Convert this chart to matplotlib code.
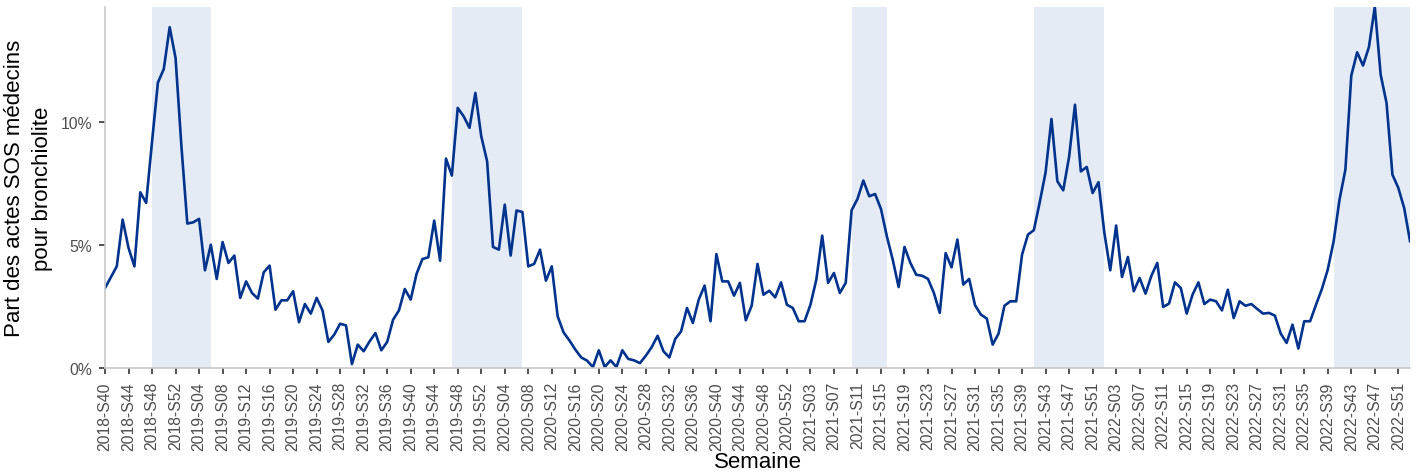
import matplotlib.pyplot as plt
from matplotlib.ticker import FuncFormatter

plt.rcParams["font.family"] = ["Liberation Sans", "DejaVu Sans"]

# Part des actes SOS Médecins pour bronchiolite (%), par semaine
sos_2018 = [3.25, 3.69, 4.13, 6.03, 4.88, 4.13, 7.14, 6.71, 9.2, 11.6, 12.15, 13.85, 12.6]
sos_2019 = [9.0, 5.87, 5.92, 6.06, 3.97, 5.01, 3.62, 5.12, 4.27, 4.57, 2.85, 3.52, 3.05,
            2.82, 3.89, 4.16, 2.37, 2.75, 2.75, 3.12, 1.86, 2.60, 2.21, 2.85, 2.34, 1.06,
            1.36, 1.80, 1.73, 0.16, 0.95, 0.68, 1.08, 1.42, 0.72, 1.06, 1.96, 2.34, 3.21,
            2.78, 3.83, 4.43, 4.50, 5.99, 4.36, 8.51, 7.82, 10.57, 10.23, 9.76, 11.18, 9.42]
sos_2020 = [8.40, 4.92, 4.81, 6.64, 4.57, 6.40, 6.34, 4.13, 4.23, 4.81, 3.55, 4.13, 2.10,
            1.45, 1.12, 0.75, 0.43, 0.30, 0.04, 0.72, 0.04, 0.31, 0.04, 0.72, 0.37, 0.31,
            0.20, 0.50, 0.85, 1.31, 0.68, 0.43, 1.18, 1.49, 2.44, 1.83, 2.78, 3.35, 1.90,
            4.63, 3.52, 3.52, 2.94, 3.46, 1.94, 2.53, 4.23, 2.98, 3.14, 2.87, 3.48, 2.57, 2.44]
sos_2021 = [1.90, 1.90, 2.57, 3.59, 5.38, 3.46, 3.86, 3.05, 3.46, 6.41, 6.87, 7.62, 6.98,
            7.07, 6.46, 5.35, 4.40, 3.29, 4.92, 4.27, 3.79, 3.75, 3.62, 3.05, 2.24, 4.67,
            4.09, 5.22, 3.39, 3.62, 2.55, 2.17, 2.01, 0.95, 1.40, 2.53, 2.71, 2.71, 4.61,
            5.42, 5.60, 6.73, 7.95, 10.12, 7.59, 7.22, 8.58, 10.70, 7.99, 8.17, 7.11, 7.55]
sos_2022 = [5.49, 3.97, 5.79, 3.70, 4.51, 3.12, 3.66, 3.02, 3.75, 4.27, 2.48, 2.62, 3.48,
            3.25, 2.21, 2.98, 3.48, 2.60, 2.78, 2.71, 2.34, 3.18, 2.03, 2.71, 2.53, 2.60,
            2.40, 2.21, 2.24, 2.13, 1.40, 1.02, 1.76, 0.79, 1.90, 1.90, 2.57, 3.21, 4.00,
            5.15, 6.84, 8.06, 11.88, 12.83, 12.29, 13.04, 14.67, 11.92, 10.77, 7.86, 7.32, 6.50]
sos_2023 = [5.15]

# (année, première semaine, dernière semaine)
years = [(2018, 40, 52), (2019, 1, 52), (2020, 1, 53), (2021, 1, 52), (2022, 1, 52), (2023, 1, 1)]

# Périodes épidémiques (début, fin)
epidemics = [("2018-S48", "2019-S06"), ("2019-S47", "2020-S07"), ("2021-S10", "2021-S16"),
             ("2021-S41", "2022-S01"), ("2022-S40", "2023-S01")]

values = sos_2018 + sos_2019 + sos_2020 + sos_2021 + sos_2022 + sos_2023
weeks = [f"{y}-S{w:02d}" for y, w0, w1 in years for w in range(w0, w1 + 1)]
x = list(range(len(weeks)))

fig, ax = plt.subplots(figsize=(14.21, 4.77), dpi=100)
fig.subplots_adjust(left=0.0739, right=0.9923, top=0.9832, bottom=0.2264)

for start, end in epidemics:
    ax.axvspan(weeks.index(start), weeks.index(end), color="#E4EBF4", lw=0, zorder=0)

ax.plot(x, values, color="#00338D", lw=1.9, zorder=2)

ax.set_xlim(0, len(weeks) - 1)
ax.set_ylim(0, max(values))
ax.set_xticks(x[::4])
ax.set_xticklabels(weeks[::4], rotation=90)
ax.set_yticks([0, 5, 10])
ax.yaxis.set_major_formatter(FuncFormatter(lambda v, p: f"{v:.0f}%"))

for side in ["top", "right"]:
    ax.spines[side].set_visible(False)
for side in ["left", "bottom"]:
    ax.spines[side].set_color("#C8C8C8")
    ax.spines[side].set_linewidth(1.2)
ax.tick_params(axis="both", colors="#333333", length=4.5, width=1.2,
               labelsize=11.3, labelcolor="#4D4D4D", pad=5)

ax.set_xlabel("Semaine", fontsize=16, labelpad=1)
ax.set_ylabel("Part des actes SOS médecins\npour bronchiolite", fontsize=16, linespacing=1.45)
ax.yaxis.set_label_coords(-0.04, 0.5)

fig.savefig("out.png", dpi=100)
